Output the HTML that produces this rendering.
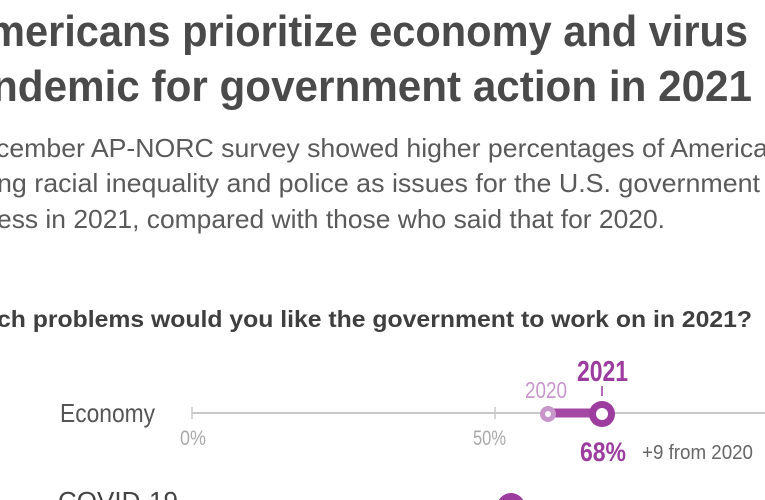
<!DOCTYPE html>
<html><head><meta charset="utf-8"><style>
html,body{margin:0;padding:0;background:#fff;width:765px;height:500px;overflow:hidden}
svg{display:block}
text{font-family:"Liberation Sans",Arial,sans-serif}
</style></head><body>
<svg width="765" height="500" viewBox="0 0 765 500" xmlns="http://www.w3.org/2000/svg">
<g fill="#4a4a4a" font-weight="bold" font-size="44">
<text x="-12" y="46" textLength="760" lengthAdjust="spacingAndGlyphs">mericans prioritize economy and virus</text>
<text x="-8" y="101" textLength="760" lengthAdjust="spacingAndGlyphs">ndemic for government action in 2021</text>
</g>
<g fill="#5a5a5a" font-size="26">
<text x="-4" y="157" textLength="772" lengthAdjust="spacingAndGlyphs">cember AP-NORC survey showed higher percentages of America</text>
<text x="-3" y="192" textLength="763" lengthAdjust="spacingAndGlyphs">ng racial inequality and police as issues for the U.S. government</text>
<text x="-3" y="228" textLength="668" lengthAdjust="spacingAndGlyphs">ess in 2021, compared with those who said that for 2020.</text>
</g>
<text x="-3" y="327" fill="#3f3f3f" font-weight="bold" font-size="23" textLength="755" lengthAdjust="spacingAndGlyphs">ch problems would you like the government to work on in 2021?</text>
<text x="60" y="422" fill="#555" font-size="26" textLength="95" lengthAdjust="spacingAndGlyphs">Economy</text>
<line x1="192" y1="413" x2="765" y2="413" stroke="#c8c8c8" stroke-width="2"/>
<line x1="192" y1="407" x2="192" y2="419" stroke="#c8c8c8" stroke-width="1.5"/>
<line x1="495" y1="407" x2="495" y2="419" stroke="#c8c8c8" stroke-width="1.5"/>
<text x="180" y="445" fill="#aaa" font-size="21" textLength="26" lengthAdjust="spacingAndGlyphs">0%</text>
<text x="473" y="445" fill="#aaa" font-size="21" textLength="33" lengthAdjust="spacingAndGlyphs">50%</text>
<line x1="548" y1="413" x2="602" y2="413" stroke="#a349a4" stroke-width="9"/>
<circle cx="548" cy="414" r="8" fill="#c896cb"/>
<circle cx="548" cy="414" r="3" fill="#fff"/>
<circle cx="602" cy="414" r="13" fill="#9b3c9e"/>
<circle cx="602" cy="414" r="6" fill="#fff"/>
<line x1="602" y1="386" x2="602" y2="396" stroke="#9b3c9e" stroke-width="1.5"/>
<text x="525" y="398" fill="#c896cb" font-size="23" textLength="42" lengthAdjust="spacingAndGlyphs">2020</text>
<text x="577" y="381" fill="#9b3c9e" font-weight="bold" font-size="29" textLength="51" lengthAdjust="spacingAndGlyphs">2021</text>
<text x="580" y="461" fill="#9b3c9e" font-weight="bold" font-size="27" textLength="46" lengthAdjust="spacingAndGlyphs">68%</text>
<text x="642" y="459" fill="#666" font-size="20" textLength="111" lengthAdjust="spacingAndGlyphs">+9 from 2020</text>
<text x="58" y="510" fill="#444" font-size="26">COVID-19</text>
<circle cx="511" cy="507" r="14" fill="#9b3c9e"/>
</svg>
</body></html>
